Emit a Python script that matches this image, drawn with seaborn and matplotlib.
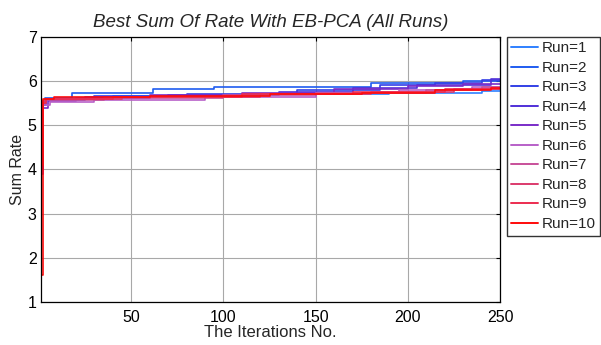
import numpy as np
import pandas as pd
import matplotlib
matplotlib.use("Agg")
import matplotlib.pyplot as plt
import seaborn as sns

# ---- data (best-so-far sum rate; improvement iterations and values per run) ----
runs = ["Run=1", "Run=2", "Run=3", "Run=4", "Run=5",
        "Run=6", "Run=7", "Run=8", "Run=9", "Run=10"]
run_iters = [
    [1, 2, 4, 10, 40, 120, 190, 240],
    [1, 2, 3, 18, 62, 95, 180, 230],
    [1, 2, 3, 30, 80, 140, 185, 215, 240],
    [1, 2, 4, 25, 70, 130, 170, 205, 245],
    [1, 2, 5, 20, 60, 110, 160, 200, 230],
    [1, 2, 6, 30, 90, 150, 195, 235],
    [1, 2, 4, 35, 100, 150, 210, 240],
    [1, 2, 3, 45, 120, 180, 225],
    [1, 2, 4, 40, 110, 170, 220],
    [1, 2, 8, 60, 125, 175, 215, 245],
]
run_values = [
    [4.9, 5.50, 5.58, 5.62, 5.66, 5.70, 5.74, 5.78],
    [4.2, 5.55, 5.62, 5.73, 5.81, 5.86, 5.96, 6.00],
    [4.5, 5.50, 5.60, 5.66, 5.71, 5.80, 5.90, 5.96, 6.03],
    [4.0, 5.45, 5.58, 5.63, 5.69, 5.76, 5.84, 5.92, 6.04],
    [3.9, 5.40, 5.56, 5.62, 5.68, 5.74, 5.82, 5.88, 5.93],
    [4.6, 5.45, 5.52, 5.58, 5.64, 5.72, 5.80, 5.86],
    [4.3, 5.50, 5.57, 5.62, 5.68, 5.73, 5.80, 5.87],
    [4.8, 5.55, 5.60, 5.64, 5.70, 5.76, 5.82],
    [4.1, 5.50, 5.60, 5.65, 5.71, 5.76, 5.83],
    [1.6, 5.60, 5.63, 5.66, 5.70, 5.74, 5.80, 5.84],
]
n_iter = 250
colors = ["#2f80ff", "#1f5cf0", "#3340e6", "#5030d8", "#7a2cc8",
          "#b860c8", "#c8509a", "#dc3a6c", "#ec2c50", "#ff0a0a"]
xticks = [50, 100, 150, 200, 250]
yticks = [1, 2, 3, 4, 5, 6, 7]

# build full best-so-far series (values held between improvements)
frames = []
full_idx = np.arange(1, n_iter + 1)
for name, it, val in zip(runs, run_iters, run_values):
    s = pd.Series(val, index=it).reindex(full_idx).ffill()
    frames.append(pd.DataFrame({"iter": full_idx, "rate": s.values, "run": name}))
df = pd.concat(frames, ignore_index=True)

sns.set_style("white")
plt.rcParams["font.family"] = ["Liberation Sans", "DejaVu Sans"]

fig = plt.figure(figsize=(6.01, 3.45), dpi=100)
ax = fig.add_axes([0.068, 0.125, 0.764, 0.768])

sns.lineplot(data=df, x="iter", y="rate", hue="run", hue_order=runs,
             palette=colors, estimator=None, sort=False,
             drawstyle="steps-post", linewidth=1.2, ax=ax)

ax.set_xlim(1, n_iter)
ax.set_ylim(1, 7)
ax.set_xticks(xticks)
ax.set_yticks(yticks)
ax.grid(True, color="#a8a8a8", linewidth=0.8)
ax.set_axisbelow(True)
for sp in ax.spines.values():
    sp.set_color("black")
    sp.set_linewidth(0.9)
ax.tick_params(direction="in", length=3, width=0.8, top=True, right=True,
               labelsize=11.5, colors="black")
ax.tick_params(axis="x", pad=6)
ax.tick_params(axis="y", pad=3)
ax.set_xlabel("The Iterations No.", fontsize=12, labelpad=0)
ax.set_ylabel("Sum Rate", fontsize=11.5, labelpad=2)
ax.set_title("Best Sum Of Rate With EB-PCA (All Runs)", fontsize=13.5,
             style="italic", pad=7)

handles, labels = ax.get_legend_handles_labels()
for h in handles:
    h.set_linewidth(1.4)
ax.legend(handles, labels, loc="upper left", bbox_to_anchor=(0.843, 0.893),
          bbox_transform=fig.transFigure, frameon=True, fancybox=False,
          edgecolor="black", fontsize=11, labelspacing=0.36,
          handlelength=1.75, handletextpad=0.25, borderpad=0.3,
          borderaxespad=0.0, title=None)
ax.get_legend().get_frame().set_linewidth(1.0)

fig.savefig("out.png", dpi=100)
